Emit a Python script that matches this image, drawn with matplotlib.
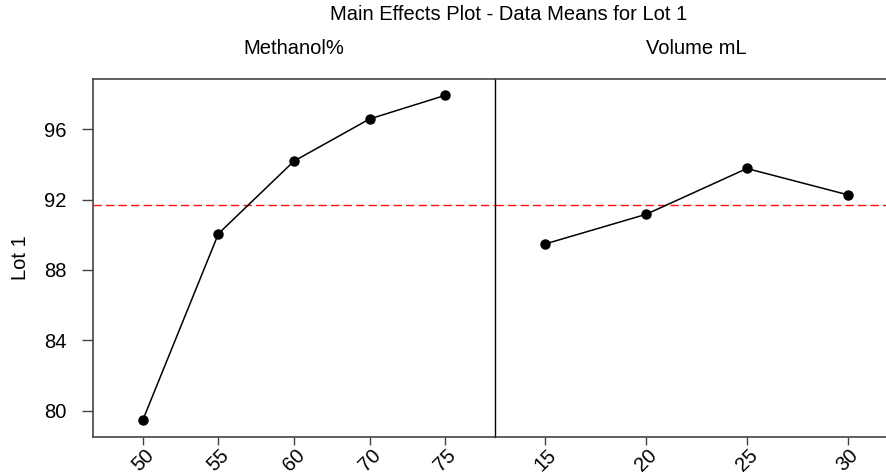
import matplotlib.pyplot as plt

plt.rcParams['font.family'] = ['Liberation Sans', 'DejaVu Sans']

methanol_levels = ['50', '55', '60', '70', '75']
methanol_means = [79.49, 90.06, 94.18, 96.57, 97.91]
volume_levels = ['15', '20', '25', '30']
volume_means = [89.48, 91.16, 93.76, 92.27]
grand_mean = 91.67
y_ticks = [80, 84, 88, 92, 96]

W, H = 887, 472
fig = plt.figure(figsize=(W / 100, H / 100), dpi=100)

ax1 = fig.add_axes([93 / W, 1 - 437 / H, 402 / W, 358 / H])
ax2 = fig.add_axes([495 / W, 1 - 437 / H, 403 / W, 358 / H], sharey=ax1)

fs = 14.5
panels = [(ax1, methanol_levels, methanol_means, 'Methanol%', 0.66),
          (ax2, volume_levels, volume_means, 'Volume mL', 0.5)]

for ax, levels, means, name, pad in panels:
    xs = list(range(len(levels)))
    ax.plot(xs, means, color='black', lw=1.1, marker='o', ms=6.5, zorder=3)
    ax.axhline(grand_mean, color='#ff1010', lw=1.0, ls=(0, (6, 3)))
    ax.set_xlim(-pad, len(levels) - 1 + pad)
    ax.set_xticks(xs)
    ax.set_xticklabels(levels, rotation=45, ha='center', va='top')
    ax.set_title(name, fontsize=fs, pad=18)
    ax.tick_params(axis='x', length=6, width=1, color='#444444', labelsize=fs, pad=0)
    for s in ax.spines.values():
        s.set_color('#444444')
        s.set_linewidth(1.2)

ax1.set_ylim(78.52, 98.84)
ax1.set_yticks(y_ticks)
ax1.tick_params(axis='y', length=8, width=1, color='#444444', labelsize=fs, pad=11)
ax1.set_ylabel('Lot 1', fontsize=fs, labelpad=10)
ax1.spines['right'].set_visible(False)

ax2.tick_params(axis='y', left=False, labelleft=False)
ax2.spines['left'].set_color('black')
ax2.spines['left'].set_linewidth(1.0)

fig.text(509 / W, 1 - 14 / H, 'Main Effects Plot - Data Means for Lot 1',
         ha='center', va='center', fontsize=fs)

fig.savefig('out.png', dpi=100)
